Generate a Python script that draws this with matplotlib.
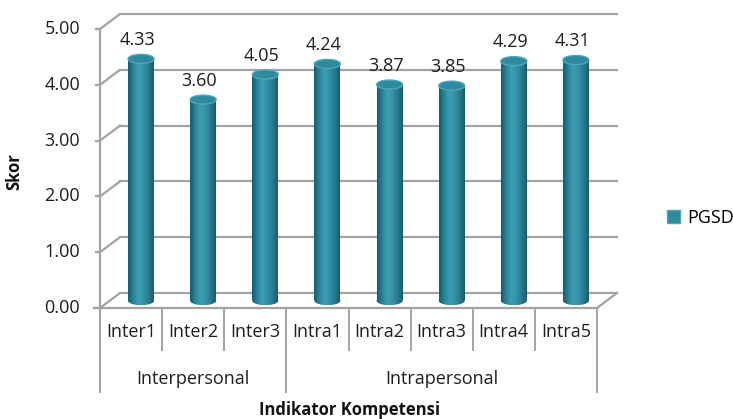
import numpy as np
import matplotlib
matplotlib.use("Agg")
import matplotlib.pyplot as plt
from matplotlib.patches import Ellipse, Patch
from matplotlib.colors import LinearSegmentedColormap

# data
categories = ["Inter1", "Inter2", "Inter3", "Intra1", "Intra2", "Intra3", "Intra4", "Intra5"]
values = [4.33, 3.60, 4.05, 4.24, 3.87, 3.85, 4.29, 4.31]
groups = ["Interpersonal", "Intrapersonal"]
group_sizes = [3, 5]
yticks = [0, 1, 2, 3, 4, 5]
series_name = "PGSD"

plt.rcParams["font.family"] = ["Open Sans", "DejaVu Sans"]

W, H = 733, 419
fig = plt.figure(figsize=(W / 100, H / 100), dpi=100)
ax = fig.add_axes([0, 0, 1, 1])
ax.set_axis_off()

# pixel geometry of the front plane (x: -0.5..7.5 -> 100..597 px, y: 0..5 -> 308..29 px)
px_x = (597 - 100) / 8.0
px_y = (308 - 29) / 5.0
dx = 20 / px_x   # depth offset
dy = 15 / px_y
xlim = (-0.5 - 100 / px_x, -0.5 + (W - 100) / px_x)
ylim = (-(H - 308) / px_y, 308 / px_y)

grid_c = "#a3a3a3"
txt_c = "#1e1e1e"
fs = 13
n = len(categories)
x = np.arange(n)

# back wall gridlines and side wall diagonals
for v in yticks:
    ax.plot([-0.5 + dx, n - 0.5 + dx], [v + dy, v + dy], color=grid_c, lw=1.6, zorder=1)
    ax.plot([-0.5, -0.5 + dx], [v, v + dy], color=grid_c, lw=1.6, zorder=1)
    ax.plot([-0.5 - 0.06, -0.5], [v, v], color=grid_c, lw=1.6, zorder=1)
    ax.text(-0.5 - 20 / px_x, v, f"{v:.2f}", ha="right", va="center", fontsize=fs, color=txt_c)

# front axis and floor
ax.plot([-0.5, -0.5], [0, yticks[-1]], color=grid_c, lw=1.6, zorder=1)
ax.plot([-0.5 - 0.1, n - 0.5], [0, 0], color=grid_c, lw=1.6, zorder=1)
ax.plot([n - 0.5, n - 0.5 + dx], [0, dy], color=grid_c, lw=1.6, zorder=1)

# category separators
bounds = np.concatenate([[0], np.cumsum(group_sizes)])
for b in range(n + 1):
    low = -(392 - 308) / px_y if b in bounds else -(350 - 308) / px_y
    ax.plot([b - 0.5, b - 0.5], [0, low], color=grid_c, lw=1.4, zorder=1)
for i, c in enumerate(categories):
    ax.text(i, -(332 - 308) / px_y, c, ha="center", va="center", fontsize=fs, color=txt_c)
for g, name in enumerate(groups):
    mid = (bounds[g] + bounds[g + 1] - 1) / 2
    ax.text(mid, -(379 - 308) / px_y, name, ha="center", va="center", fontsize=fs, color=txt_c)

# cylinders
cmap = LinearSegmentedColormap.from_list(
    "cyl", ["#175c6e", "#2b8398", "#3d9db3", "#3393a9", "#287b8f", "#185c6d"])
grad = np.linspace(0, 1, 64).reshape(1, -1)
w = 26 / px_x
eh = 9 / px_y
cx = x + dx / 2
base = dy / 2
bars = ax.bar(cx, values, bottom=base, width=w, color="#2b8398", zorder=3,
              label=series_name, linewidth=0)
for i, bar in enumerate(bars):
    top = values[i] + base
    img = ax.imshow(grad, cmap=cmap, aspect="auto", zorder=3,
                    extent=(cx[i] - w / 2, cx[i] + w / 2, base - eh / 2, top))
    body = plt.Rectangle((cx[i] - w / 2, base), w, values[i], transform=ax.transData)
    img.set_clip_path(body)
    bottom = Ellipse((cx[i], base), w, eh, facecolor="#2b8398", edgecolor="none", zorder=3)
    ax.add_patch(bottom)
    img2 = ax.imshow(grad, cmap=cmap, aspect="auto", zorder=3.1,
                     extent=(cx[i] - w / 2, cx[i] + w / 2, base - eh / 2, base + eh / 2))
    img2.set_clip_path(bottom)
    bar.set_visible(False)
    ax.add_patch(Ellipse((cx[i], top), w, eh, facecolor="#2f8a9f",
                         edgecolor="#4ea6ba", lw=1.0, zorder=4))
    ax.text(x[i] + 0.1, top + 19 / px_y, f"{values[i]:.2f}", ha="center", va="center",
            fontsize=fs, color=txt_c, zorder=5)

# axis titles
ax.text(xlim[0] + 14 / px_x, ylim[1] - 172 / px_y, "Skor", rotation=90, ha="center",
        va="center", fontsize=12, fontweight="bold", color="#111111")
ax.text((-0.5 + n - 0.5) / 2 + 1 / px_x, ylim[1] - 410 / px_y, "Indikator Kompetensi",
        ha="center", va="center", fontsize=12, fontweight="bold", color="#111111")

# legend
ax.legend(handles=[Patch(facecolor="#2f8a9f", edgecolor="#4ea6ba", label=series_name)],
          loc="center left", bbox_to_anchor=(667 / W, 1 - 218 / H), frameon=False,
          fontsize=fs, handlelength=0.7, handleheight=0.7, handletextpad=0.4,
          borderpad=0, borderaxespad=0, bbox_transform=fig.transFigure)

ax.set_xlim(xlim)
ax.set_ylim(ylim)
fig.savefig("out.png", dpi=100)
